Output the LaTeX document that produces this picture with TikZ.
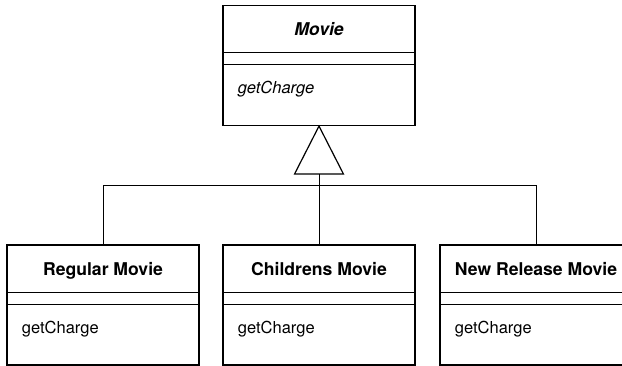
\documentclass[tikz,border=0pt]{standalone}
\usepackage{fontspec}
\setmainfont{TeX Gyre Heros}
\begin{document}
\begin{tikzpicture}[
     x=1pt,y=-1pt,
     cls/.style={draw,line width=1.2pt,minimum width=192pt,minimum height=120pt,inner sep=0pt},
     title/.style={anchor=base,font=\fontsize{17.6}{20}\selectfont\bfseries},
     op/.style={anchor=base west,font=\fontsize{16.5}{20}\selectfont},
     sep/.style={line width=0.9pt},
     link/.style={line width=0.9pt}
   ]
   \path[use as bounding box] (0,0) rectangle (622,366);
   % Classes.
   \node[cls] (movie) at (319,65.5) {};
   \node[cls] (regular) at (103,305) {};
   \node[cls] (childrens) at (319,305) {};
   \node[cls] (newrelease) at (536,305) {};
   % Compartments.
   \foreach \c in {movie,regular,childrens,newrelease} {
     \draw[sep] ([yshift=-48pt]\c.north west) -- ([yshift=-48pt]\c.north east);
     \draw[sep] ([yshift=-60pt]\c.north west) -- ([yshift=-60pt]\c.north east);
   }
   % Names and operations.
   \node[title] (movie-name) at ([yshift=-31pt]movie.north) {\itshape Movie};
   \node[op] (movie-op) at ([xshift=12pt,yshift=-89pt]movie.north west) {\itshape getCharge};
   \node[title] (regular-name) at ([yshift=-31pt]regular.north) {Regular Movie};
   \node[op] (regular-op) at ([xshift=12pt,yshift=-89pt]regular.north west) {getCharge};
   \node[title] (childrens-name) at ([yshift=-31pt]childrens.north) {Childrens Movie};
   \node[op] (childrens-op) at ([xshift=12pt,yshift=-89pt]childrens.north west) {getCharge};
   \node[title] (newrelease-name) at ([yshift=-31pt]newrelease.north) {New Release Movie};
   \node[op] (newrelease-op) at ([xshift=12pt,yshift=-89pt]newrelease.north west) {getCharge};
   % Generalization.
   \coordinate (base) at ([yshift=-48pt]movie.south);
   \coordinate (bar) at ([yshift=-11pt]base);
   \draw[line width=1.2pt] (movie.south) -- ++(24.5,48) -- ++(-49,0) -- cycle;
   \draw[link] (base) -- (childrens.north);
   \draw[link] (regular.north) |- (bar) -| (newrelease.north);
 \end{tikzpicture}
\end{document}
